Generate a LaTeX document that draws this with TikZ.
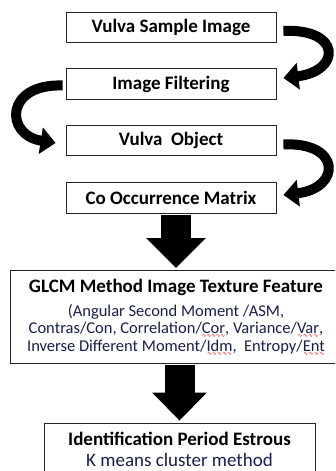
\documentclass[tikz,border=0pt]{standalone}
\usepackage{fontspec}
\setmainfont{Carlito}
\newfontfamily\wavefont{DejaVu Sans}
\usetikzlibrary{arrows.meta}

\definecolor{bodyblue}{RGB}{25,30,75}
% red wavy underline under the abbreviations
\newcommand{\redwave}[1]{\setbox0\hbox{#1}%
    \rlap{\raisebox{-3.8pt}[0pt][0pt]{\hbox to \wd0{\color{red}%
        \fontsize{5.5}{6}\wavefont\xleaders\hbox{∿}\hfil}}}\box0}

\begin{document}
\begin{tikzpicture}[
    x=1pt, y=-1pt,
    stepbox/.style={draw=black!85, line width=0.8pt, minimum width=210pt,
        minimum height=30.5pt, inner sep=0pt,
        font=\fontsize{19}{22}\selectfont\bfseries},
    bigbox/.style={draw=black!85, line width=0.8pt, inner sep=0pt, align=center},
    curvy/.style={line width=10pt, -{Triangle[width=26pt,length=15pt]}},
    blockarrow/.style={line width=30pt, shorten <=1pt, shorten >=2pt}
]
    \useasboundingbox (0,0) rectangle (335,471);
    \clip (0,0) rectangle (335,471);

    % Processing steps
    \node[stepbox] (sample) at (171,27.5)  {Vulva Sample Image};
    \node[stepbox] (filter) at (171,84)    {Image Filtering};
    \node[stepbox] (vobj)   at (171,140.5) {Vulva\ \ Object};
    \node[stepbox] (cooc)   at (171,198)   {Co Occurrence Matrix};

    % GLCM features
    \node[bigbox, anchor=north, minimum width=332pt, minimum height=93pt,
          text=bodyblue, font=\fontsize{16.5}{17.5}\selectfont] (glcm) at (176,270)
        {{\color{black}\fontsize{19}{22}\selectfont\bfseries GLCM Method Image Texture Feature}\\[6pt]
         (Angular Second Moment /ASM,\\
         Contras/Con, Correlation/\redwave{Cor}, Variance/\redwave{Var},\\
         Inverse Different Moment/\redwave{Idm},\ \ Entropy/\redwave{Ent}};

    % Result
    \node[bigbox, minimum width=271pt, minimum height=52pt,
          font=\fontsize{19}{21}\selectfont] (kmeans) at (179.5,449)
        {\textbf{Identification Period Estrous}\\
         {\color{bodyblue}K means cluster method}};

    % Curved arrows between the steps
    \draw[curvy] ([xshift=7pt,yshift=-3.5pt]sample.east)
        .. controls +(58,-3) and +(58,-7) .. ([xshift=7pt,yshift=6pt]filter.east);
    \draw[curvy] ([xshift=-3pt,yshift=-1.5pt]filter.west)
        .. controls +(-58,-2) and +(-51,-8) .. ([xshift=-10pt,yshift=-2.5pt]vobj.west);
    \draw[curvy] ([xshift=7pt,yshift=-4pt]vobj.east)
        .. controls +(58,-3) and +(58,-7) .. ([xshift=7pt,yshift=3pt]cooc.east);

    % Block arrows
    \draw[blockarrow, -{Triangle[width=58pt,length=30pt]}]
        (glcm.north |- cooc.south) -- (glcm.north);
    \draw[blockarrow, -{Triangle[width=53pt,length=28pt]}]
        (kmeans.north |- glcm.south) -- (kmeans.north);
\end{tikzpicture}
\end{document}
